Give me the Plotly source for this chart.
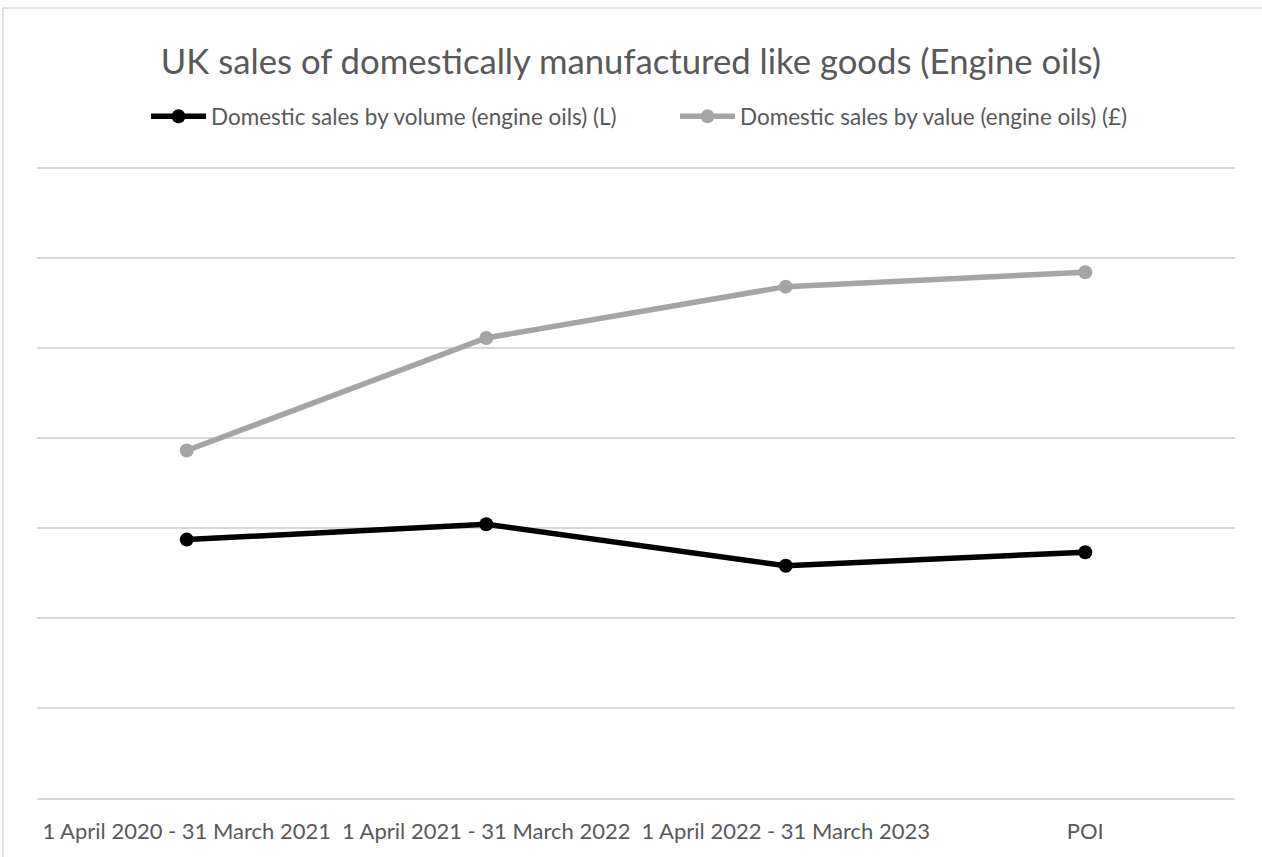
import plotly.graph_objects as go

# Reporting periods and the two domestic-sales series (index units, axis 0-7)
periods = [
    "1 April 2020 - 31 March 2021",
    "1 April 2021 - 31 March 2022",
    "1 April 2022 - 31 March 2023",
    "POI",
]
volume_sales = [2.87, 3.04, 2.58, 2.73]
value_sales = [3.86, 5.11, 5.68, 5.84]

positions = list(range(len(periods)))
FONT = "Lato"
TEXT = "#595959"

fig = go.Figure()
fig.add_trace(go.Scatter(
    x=positions, y=volume_sales, mode="lines+markers",
    name="Domestic sales by volume (engine oils) (L)",
    line=dict(color="#000000", width=5.5),
    marker=dict(color="#000000", size=14),
))
fig.add_trace(go.Scatter(
    x=positions, y=value_sales, mode="lines+markers",
    name="Domestic sales by value (engine oils) (£)",
    line=dict(color="#A5A5A5", width=5.5),
    marker=dict(color="#A5A5A5", size=14),
))

fig.update_layout(
    width=1262, height=857,
    margin=dict(l=37, r=27, t=166, b=59),
    paper_bgcolor="white", plot_bgcolor="white",
    font=dict(family=FONT, color=TEXT),
    title=dict(
        text="UK sales of domestically manufactured like goods (Engine oils)",
        x=0.5, xanchor="center", y=0.928, yanchor="middle",
        font=dict(size=34.7, color=TEXT, family=FONT),
    ),
    legend=dict(
        orientation="h", x=0.091, xanchor="left", y=1.078, yanchor="middle",
        font=dict(size=22.5, color=TEXT, family=FONT),
        itemwidth=55, entrywidth=459, entrywidthmode="pixels",
        tracegroupgap=0,
    ),
    showlegend=True,
)

fig.update_xaxes(
    range=[-0.5, 3.5], tickvals=positions, ticktext=periods,
    showgrid=False, zeroline=False,
    showline=True, linecolor="#D9D9D9", linewidth=2,
    ticks="", ticklabelstandoff=13,
    tickfont=dict(size=22, color=TEXT, family=FONT),
)
fig.update_yaxes(
    range=[0, 7.02], tickvals=[1, 2, 3, 4, 5, 6, 7], showticklabels=False,
    showgrid=True, gridcolor="#D9D9D9", gridwidth=2,
    zeroline=False, showline=False, ticks="",
)

# Light chart-area border
fig.add_shape(
    type="rect", xref="paper", yref="paper",
    x0=-0.0284, x1=1.03, y0=-0.12, y1=1.25,
    line=dict(color="#D9D9D9", width=1.5), fillcolor="rgba(0,0,0,0)",
    layer="below",
)

fig.write_html("out.html")
